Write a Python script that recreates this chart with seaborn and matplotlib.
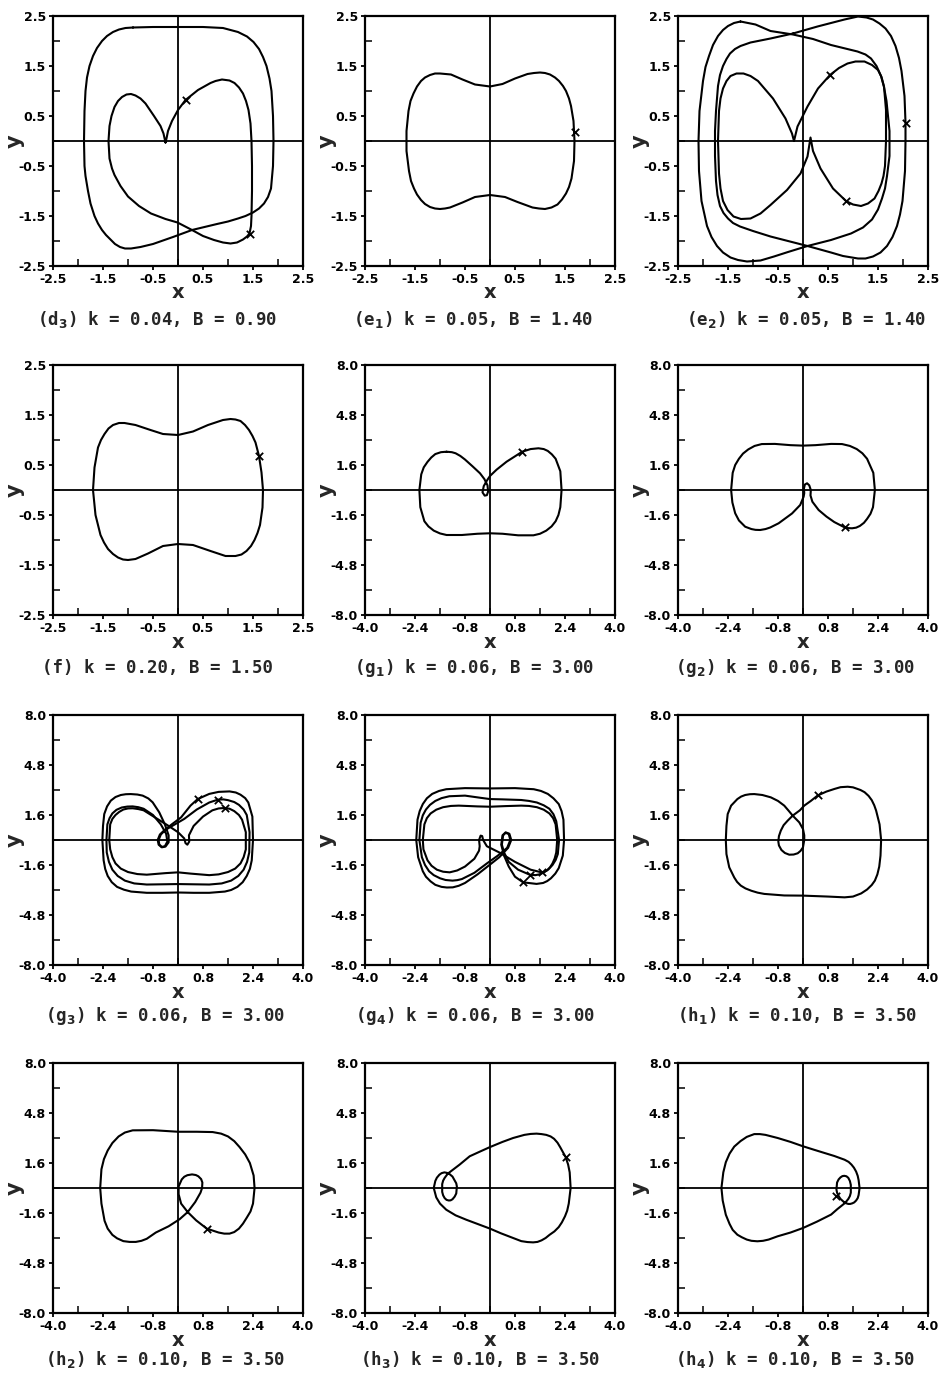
import numpy as np
import matplotlib
matplotlib.use("Agg")
import matplotlib.pyplot as plt
import seaborn as sns

# ------------------------------------------------------------------ data
titles = [r"(d$_\mathbf{3}$) k = 0.04, B = 0.90", r"(e$_\mathbf{1}$) k = 0.05, B = 1.40",
          r"(e$_\mathbf{2}$) k = 0.05, B = 1.40", r"(f) k = 0.20, B = 1.50",
          r"(g$_\mathbf{1}$) k = 0.06, B = 3.00", r"(g$_\mathbf{2}$) k = 0.06, B = 3.00",
          r"(g$_\mathbf{3}$) k = 0.06, B = 3.00", r"(g$_\mathbf{4}$) k = 0.06, B = 3.00",
          r"(h$_\mathbf{1}$) k = 0.10, B = 3.50", r"(h$_\mathbf{2}$) k = 0.10, B = 3.50",
          r"(h$_\mathbf{3}$) k = 0.10, B = 3.50", r"(h$_\mathbf{4}$) k = 0.10, B = 3.50"]

small_ticks = ["-2.5", "-1.5", "-0.5", "0.5", "1.5", "2.5"]
big_xticks = ["-4.0", "-2.4", "-0.8", "0.8", "2.4", "4.0"]
big_yticks = ["-8.0", "-4.8", "-1.6", "1.6", "4.8", "8.0"]

d3_outer = [(-0.9,2.27),(-0.5,2.28),(0.0,2.28),(0.5,2.28),(0.9,2.26),(1.2,2.18),(1.38,2.09),(1.51,1.98),
            (1.62,1.84),(1.7,1.68),(1.77,1.5),(1.83,1.25),(1.87,1.0),(1.9,0.5),(1.91,0.0),(1.9,-0.5),
            (1.86,-0.95),(1.8,-1.12),(1.72,-1.25),(1.62,-1.35),(1.5,-1.43),(1.35,-1.5),(1.2,-1.55),
            (1.0,-1.61),(0.78,-1.66),(0.28,-1.78),(-0.1,-1.92),(-0.5,-2.06),(-0.75,-2.12),(-0.94,-2.15),
            (-1.06,-2.15),(-1.16,-2.12),(-1.26,-2.06),(-1.34,-1.98),(-1.44,-1.88),(-1.52,-1.78),
            (-1.6,-1.65),(-1.67,-1.5),(-1.75,-1.25),(-1.8,-1.0),(-1.85,-0.7),(-1.87,-0.5),(-1.88,0.0),
            (-1.87,0.6),(-1.85,1.0),(-1.82,1.27),(-1.77,1.5),(-1.7,1.7),(-1.62,1.86),(-1.52,2.0),
            (-1.42,2.1),(-1.3,2.18),(-1.18,2.23),(-1.05,2.26),(-0.9,2.27)]
d3_inner = [(-0.25,-0.03),(-0.29,0.15),(-0.35,0.3),(-0.48,0.5),(-0.65,0.75),(-0.75,0.85),(-0.85,0.91),
            (-0.94,0.94),(-1.03,0.93),(-1.12,0.88),(-1.2,0.8),(-1.27,0.68),(-1.33,0.5),(-1.37,0.3),
            (-1.39,0.0),(-1.37,-0.35),(-1.32,-0.55),(-1.27,-0.68),(-1.15,-0.9),(-1.0,-1.11),(-0.78,-1.3),
            (-0.54,-1.45),(-0.25,-1.56),(-0.01,-1.63),(0.28,-1.78),(0.5,-1.9),(0.72,-1.98),(0.9,-2.03),
            (1.05,-2.05),(1.18,-2.03),(1.3,-1.97),(1.38,-1.91),(1.43,-1.85),(1.46,-1.7),(1.47,-1.5),
            (1.48,-1.0),(1.48,-0.5),(1.47,0.0),(1.45,0.35),(1.41,0.62),(1.36,0.8),(1.3,0.95),(1.22,1.07),
            (1.13,1.16),(1.03,1.21),(0.88,1.23),(0.75,1.2),(0.65,1.16),(0.4,1.02),(0.15,0.82),(0.0,0.62),
            (-0.12,0.4),(-0.2,0.2),(-0.23,0.05),(-0.25,-0.03)]
d3_marks = [(0.15,0.82),(1.43,-1.85)]

e1_loop = [(0.0,1.09),(0.25,1.14),(0.5,1.25),(0.75,1.34),(0.88,1.36),(1.0,1.37),(1.1,1.36),(1.2,1.33),
           (1.3,1.27),(1.38,1.2),(1.46,1.1),(1.52,1.0),(1.58,0.85),(1.62,0.7),(1.67,0.4),(1.69,0.0),
           (1.68,-0.4),(1.63,-0.75),(1.58,-0.92),(1.52,-1.05),(1.44,-1.17),(1.35,-1.27),(1.23,-1.33),
           (1.1,-1.36),(0.98,-1.35),(0.85,-1.33),(0.55,-1.22),(0.3,-1.12),(0.0,-1.08),(-0.3,-1.12),
           (-0.55,-1.23),(-0.8,-1.33),(-0.9,-1.35),(-1.0,-1.36),(-1.1,-1.35),(-1.2,-1.32),(-1.3,-1.26),
           (-1.38,-1.18),(-1.46,-1.07),(-1.52,-0.95),(-1.58,-0.8),(-1.62,-0.6),(-1.67,-0.2),(-1.67,0.2),
           (-1.63,0.6),(-1.59,0.8),(-1.53,0.95),(-1.46,1.09),(-1.38,1.2),(-1.3,1.27),(-1.2,1.32),
           (-1.1,1.35),(-1.0,1.35),(-0.78,1.33),(-0.55,1.23),(-0.3,1.13),(0.0,1.09)]
e1_marks = [(1.69,0.19)]

e2_loop_a = [(-1.25,2.39),(-0.95,2.33),(-0.65,2.2),(-0.2,2.13),(0.2,2.04),(0.56,1.92),(1.09,1.79),
             (1.25,1.73),(1.36,1.65),(1.47,1.5),(1.56,1.3),(1.62,1.08),(1.67,0.8),(1.73,0.2),(1.73,-0.3),
             (1.68,-0.7),(1.64,-0.95),(1.58,-1.15),(1.5,-1.37),(1.38,-1.57),(1.2,-1.73),(0.96,-1.85),
             (0.56,-1.98),(0.09,-2.1),(-0.3,-2.22),(-0.58,-2.31),(-0.85,-2.39),(-1.12,-2.41),(-1.3,-2.38),
             (-1.45,-2.33),(-1.6,-2.23),(-1.72,-2.1),(-1.83,-1.92),(-1.92,-1.7),(-2.03,-1.2),(-2.08,-0.6),
             (-2.09,0.0),(-2.07,0.6),(-2.0,1.2),(-1.95,1.48),(-1.88,1.7),(-1.8,1.92),(-1.7,2.1),
             (-1.6,2.22),(-1.5,2.3),(-1.38,2.36),(-1.25,2.39)]
e2_loop_b = [(-0.2,2.15),(0.29,2.29),(0.83,2.43),(1.1,2.49),(1.27,2.47),(1.4,2.43),(1.53,2.35),(1.65,2.25),
             (1.76,2.1),(1.85,1.9),(1.92,1.66),(1.97,1.4),(2.03,0.9),(2.05,0.37),(2.05,0.0),(2.04,-0.6),
             (1.99,-1.2),(1.94,-1.47),(1.88,-1.7),(1.79,-1.92),(1.68,-2.1),(1.55,-2.23),(1.4,-2.31),
             (1.25,-2.35),(1.1,-2.35),(0.8,-2.3),(0.56,-2.23),(0.09,-2.1),(-0.3,-2.0),(-0.65,-1.91),
             (-1.0,-1.8),(-1.26,-1.71),(-1.4,-1.64),(-1.5,-1.55),(-1.59,-1.44),(-1.66,-1.3),(-1.71,-1.08),
             (-1.74,-0.8),(-1.76,-0.3),(-1.76,0.2),(-1.74,0.6),(-1.7,1.1),(-1.66,1.32),(-1.6,1.5),
             (-1.53,1.64),(-1.46,1.75),(-1.36,1.84),(-1.25,1.9),(-1.05,1.97),(-0.65,2.05),(-0.2,2.15)]
e2_loop_c = [(-0.18,0.0),(-0.11,0.29),(0.09,0.69),(0.3,1.05),(0.54,1.32),(0.72,1.46),(0.89,1.55),
             (1.05,1.59),(1.23,1.59),(1.38,1.52),(1.5,1.42),(1.57,1.28),(1.62,1.09),(1.66,0.62),(1.66,0.0),
             (1.64,-0.5),(1.61,-0.7),(1.57,-0.85),(1.51,-1.0),(1.43,-1.15),(1.3,-1.25),(1.16,-1.3),
             (1.0,-1.27),(0.86,-1.2),(0.6,-0.95),(0.35,-0.55),(0.2,-0.2),(0.15,0.07),(0.09,-0.31),
             (-0.05,-0.65),(-0.32,-0.98),(-0.65,-1.28),(-0.85,-1.45),(-1.05,-1.55),(-1.24,-1.56),
             (-1.39,-1.51),(-1.51,-1.38),(-1.6,-1.2),(-1.65,-0.95),(-1.68,-0.65),(-1.70,0.0),(-1.68,0.6),
             (-1.65,0.85),(-1.6,1.05),(-1.53,1.2),(-1.45,1.3),(-1.33,1.35),(-1.19,1.35),(-1.05,1.3),
             (-0.9,1.2),(-0.6,0.85),(-0.35,0.45),(-0.22,0.15),(-0.18,0.0)]
e2_marks = [(0.54,1.32),(2.05,0.37),(0.86,-1.2)]

f_loop = [(0.0,1.1),(0.3,1.17),(0.6,1.3),(0.9,1.4),(1.05,1.42),(1.15,1.41),(1.25,1.38),(1.34,1.3),
          (1.42,1.2),(1.49,1.08),(1.55,0.95),(1.62,0.68),(1.67,0.35),(1.70,0.0),(1.69,-0.35),(1.64,-0.7),
          (1.59,-0.86),(1.53,-1.0),(1.46,-1.12),(1.37,-1.22),(1.27,-1.29),(1.15,-1.32),(0.95,-1.32),
          (0.65,-1.22),(0.3,-1.1),(0.0,-1.08),(-0.3,-1.12),(-0.6,-1.27),(-0.85,-1.38),(-1.0,-1.4),
          (-1.1,-1.39),(-1.2,-1.35),(-1.3,-1.28),(-1.4,-1.18),(-1.48,-1.05),(-1.55,-0.9),(-1.65,-0.5),
          (-1.7,0.0),(-1.67,0.45),(-1.6,0.85),(-1.54,1.0),(-1.47,1.12),(-1.39,1.23),(-1.3,1.3),
          (-1.18,1.34),(-1.07,1.34),(-0.85,1.3),(-0.55,1.2),(-0.3,1.12),(0.0,1.1)]
f_marks = [(1.62,0.68)]

g1_loop = [(-1.39,2.45),(-1.22,2.42),(-1.1,2.35),(-0.95,2.18),(-0.8,1.95),(-0.55,1.5),(-0.32,1.07),
           (-0.18,0.7),(-0.08,0.3),(-0.06,-0.1),(-0.1,-0.33),(-0.17,-0.36),(-0.24,-0.15),(-0.2,0.25),
           (-0.1,0.6),(0.0,0.9),(0.21,1.3),(0.53,1.81),(1.03,2.45),(1.3,2.62),(1.55,2.67),(1.72,2.62),
           (1.85,2.5),(1.98,2.28),(2.1,2.0),(2.25,1.2),(2.29,0.0),(2.25,-1.1),(2.19,-1.6),(2.1,-2.0),
           (1.97,-2.33),(1.8,-2.6),(1.6,-2.8),(1.39,-2.9),(0.9,-2.9),(0.4,-2.8),(0.0,-2.77),(-0.4,-2.8),
           (-0.9,-2.88),(-1.39,-2.88),(-1.6,-2.78),(-1.8,-2.6),(-1.97,-2.33),(-2.1,-2.0),(-2.23,-1.1),
           (-2.26,0.0),(-2.2,1.0),(-2.12,1.45),(-2.0,1.8),(-1.88,2.08),(-1.75,2.3),(-1.57,2.42),(-1.39,2.45)]
g1_marks = [(1.03,2.45)]

g2_loop = [(-2.3,0.0),(-2.25,1.1),(-2.17,1.6),(-2.05,2.0),(-1.92,2.33),(-1.75,2.6),(-1.55,2.82),
           (-1.32,2.94),(-0.9,2.95),(-0.4,2.87),(0.0,2.84),(0.4,2.87),(0.9,2.95),(1.25,2.94),(1.5,2.82),
           (1.72,2.62),(1.9,2.35),(2.05,2.0),(2.25,1.1),(2.3,0.0),(2.24,-1.1),(2.16,-1.52),(2.05,-1.85),
           (1.95,-2.1),(1.82,-2.3),(1.7,-2.41),(1.57,-2.45),(1.45,-2.44),(1.33,-2.39),(1.0,-2.05),
           (0.75,-1.7),(0.5,-1.28),(0.3,-0.75),(0.24,-0.35),(0.25,0.0),(0.2,0.3),(0.13,0.43),(0.06,0.35),
           (0.03,0.1),(0.04,-0.2),(0.02,-0.43),(-0.09,-0.96),(-0.35,-1.5),(-0.78,-2.13),(-1.05,-2.4),
           (-1.2,-2.5),(-1.37,-2.56),(-1.52,-2.55),(-1.65,-2.5),(-1.85,-2.35),(-2.05,-1.95),(-2.17,-1.49),
           (-2.26,-0.8),(-2.3,0.0)]
g2_marks = [(1.33,-2.39)]

g3_outer = [(-2.42,0.0),(-2.4,0.9),(-2.36,1.66),(-2.27,2.15),(-2.15,2.52),(-2.0,2.75),(-1.83,2.88),
            (-1.67,2.93),(-1.51,2.94),(-1.3,2.91),(-1.13,2.84),(-0.95,2.66),(-0.81,2.41),(-0.6,1.77),
            (-0.42,1.0),(-0.3,0.3),(-0.3,-0.15),(-0.4,-0.42),(-0.52,-0.47),(-0.62,-0.3),(-0.65,0.0),
            (-0.58,0.35),(-0.45,0.6),(-0.2,1.0),(0.1,1.45),(0.4,2.2),(0.63,2.62),(1.0,2.95),(1.3,3.08),
            (1.65,3.11),(1.85,3.04),(2.0,2.9),(2.15,2.68),(2.25,2.4),(2.38,1.5),(2.4,0.0),(2.36,-1.3),
            (2.3,-1.85),(2.2,-2.3),(2.07,-2.7),(1.9,-3.0),(1.7,-3.2),(1.5,-3.3),(1.0,-3.38),(0.5,-3.38),
            (0.0,-3.36),(-0.5,-3.38),(-1.0,-3.38),(-1.5,-3.3),(-1.73,-3.18),(-1.95,-3.0),(-2.12,-2.7),
            (-2.25,-2.3),(-2.33,-1.85),(-2.38,-1.3),(-2.42,0.0)]
g3_middle = [(-2.29,0.0),(-2.26,1.0),(-2.19,1.4),(-2.1,1.7),(-1.97,1.93),(-1.8,2.08),(-1.62,2.14),
             (-1.45,2.15),(-1.27,2.1),(-1.1,2.0),(-0.8,1.6),(-0.55,1.0),(-0.38,0.4),(-0.34,-0.1),
             (-0.42,-0.4),(-0.52,-0.44),(-0.6,-0.28),(-0.62,0.0),(-0.55,0.35),(-0.4,0.65),(-0.1,1.0),
             (0.2,1.35),(0.6,1.95),(1.0,2.4),(1.27,2.58),(1.45,2.6),(1.6,2.55),(1.8,2.43),(1.95,2.25),
             (2.1,1.95),(2.2,1.6),(2.29,0.5),(2.28,-0.8),(2.21,-1.4),(2.1,-1.9),(1.93,-2.3),(1.7,-2.6),
             (1.4,-2.78),(1.0,-2.85),(0.0,-2.82),(-1.0,-2.85),(-1.4,-2.78),(-1.7,-2.6),(-1.93,-2.3),
             (-2.1,-1.9),(-2.21,-1.4),(-2.28,-0.8),(-2.29,0.0)]
g3_inner = [(-2.2,0.0),(-2.17,1.0),(-2.1,1.35),(-2.0,1.6),(-1.88,1.8),(-1.75,1.95),(-1.6,2.02),
            (-1.45,2.03),(-1.27,1.98),(-1.1,1.9),(-0.7,1.4),(-0.3,0.9),(0.0,0.5),(0.2,0.1),(0.24,-0.2),
            (0.3,-0.3),(0.36,-0.1),(0.35,0.3),(0.5,0.9),(0.8,1.5),(1.1,1.9),(1.3,2.02),(1.49,2.05),
            (1.65,2.0),(1.8,1.85),(1.95,1.6),(2.05,1.3),(2.17,0.5),(2.17,-0.6),(2.1,-1.1),(2.0,-1.5),
            (1.83,-1.83),(1.6,-2.05),(1.3,-2.2),(1.0,-2.25),(0.4,-2.15),(0.0,-2.07),(-0.4,-2.12),
            (-1.0,-2.22),(-1.3,-2.18),(-1.6,-2.05),(-1.83,-1.83),(-2.0,-1.5),(-2.1,-1.1),(-2.17,-0.6),
            (-2.2,0.0)]
g3_marks = [(0.63,2.62),(1.27,2.58),(1.49,2.05)]

g4_outer = [(-2.36,0.0),(-2.32,1.3),(-2.25,1.85),(-2.15,2.3),(-2.02,2.67),(-1.85,2.95),(-1.63,3.14),
            (-1.4,3.25),(-0.8,3.32),(0.0,3.3),(0.8,3.32),(1.4,3.25),(1.63,3.14),(1.85,2.95),(2.03,2.67),
            (2.2,2.3),(2.29,1.85),(2.35,1.3),(2.37,0.0),(2.33,-1.0),(2.2,-1.8),(2.09,-2.15),(1.95,-2.45),
            (1.83,-2.63),(1.7,-2.75),(1.49,-2.81),(1.06,-2.71),(0.8,-2.35),(0.6,-1.7),(0.45,-1.0),
            (0.36,-0.3),(0.4,0.3),(0.5,0.49),(0.62,0.4),(0.68,0.0),(0.58,-0.5),(0.3,-1.1),
            (-0.05,-1.65),(-0.4,-2.2),(-0.8,-2.75),(-1.0,-2.93),(-1.19,-3.03),(-1.38,-3.04),(-1.55,-3.0),
            (-1.75,-2.87),(-1.9,-2.65),(-2.05,-2.35),(-2.15,-2.0),(-2.3,-1.1),(-2.36,0.0)]
g4_middle = [(-2.26,0.0),(-2.22,1.1),(-2.15,1.58),(-2.05,1.95),(-1.92,2.25),(-1.75,2.5),(-1.55,2.68),
             (-1.3,2.8),(-0.8,2.84),(-0.3,2.7),(0.0,2.62),(0.4,2.6),(1.0,2.56),(1.25,2.5),(1.5,2.4),
             (1.72,2.22),(1.9,2.0),(2.03,1.65),(2.12,1.2),(2.21,0.0),(2.17,-0.9),(2.1,-1.28),(2.0,-1.6),
             (1.87,-1.88),(1.7,-2.1),(1.58,-2.2),(1.45,-2.25),(1.27,-2.22),(0.9,-1.9),(0.6,-1.4),
             (0.45,-0.8),(0.38,-0.3),(0.42,0.3),(0.5,0.46),(0.6,0.38),(0.65,0.0),(0.55,-0.5),(0.25,-1.0),
             (-0.1,-1.5),(-0.5,-2.1),(-0.9,-2.5),(-1.05,-2.57),(-1.2,-2.6),(-1.42,-2.56),(-1.6,-2.45),
             (-1.8,-2.25),(-1.95,-2.0),(-2.08,-1.6),(-2.18,-1.1),(-2.26,0.0)]
g4_inner = [(-2.15,0.0),(-2.1,1.0),(-2.02,1.4),(-1.9,1.7),(-1.72,1.94),(-1.5,2.1),(-1.25,2.18),(-1.0,2.2),
            (-0.4,2.15),(0.0,2.13),(0.5,2.17),(1.0,2.2),(1.25,2.18),(1.5,2.1),(1.72,1.94),(1.9,1.7),
            (2.02,1.4),(2.1,1.0),(2.15,0.0),(2.12,-0.8),(2.07,-1.18),(2.0,-1.5),(1.92,-1.75),(1.82,-1.95),
            (1.74,-2.04),(1.65,-2.07),(1.3,-1.9),(0.8,-1.4),(0.3,-0.8),(-0.1,-0.4),(-0.22,0.0),(-0.25,0.25),
            (-0.3,0.28),(-0.35,0.0),(-0.33,-0.4),(-0.35,-0.68),(-0.5,-1.2),(-0.8,-1.7),(-1.05,-1.95),
            (-1.29,-2.07),(-1.5,-2.03),(-1.7,-1.9),(-1.87,-1.65),(-2.0,-1.3),(-2.13,-0.6),(-2.15,0.0)]
g4_marks = [(1.06,-2.71),(1.27,-2.22),(1.65,-2.07)]

h1_loop = [(-2.47,0.0),(-2.45,0.9),(-2.41,1.66),(-2.3,2.2),(-2.1,2.62),(-1.98,2.78),(-1.85,2.88),
           (-1.7,2.93),(-1.56,2.94),(-1.3,2.88),(-1.03,2.73),(-0.8,2.5),(-0.6,2.2),(-0.45,1.85),
           (-0.33,1.56),(-0.12,1.13),(0.0,0.7),(0.04,0.3),(0.04,0.0),(0.0,-0.47),(-0.08,-0.7),
           (-0.17,-0.85),(-0.3,-0.93),(-0.44,-0.94),(-0.58,-0.83),(-0.69,-0.64),(-0.77,-0.35),(-0.79,-0.1),
           (-0.77,0.25),(-0.71,0.6),(-0.62,0.95),(-0.49,1.24),(-0.33,1.56),(-0.1,1.9),(0.04,2.2),(0.25,2.5),
           (0.47,2.85),(0.75,3.1),(1.01,3.27),(1.2,3.38),(1.43,3.41),(1.6,3.37),(1.7,3.3),(1.84,3.2),
           (1.97,3.06),(2.1,2.82),(2.2,2.55),(2.28,2.22),(2.34,1.88),(2.45,1.0),(2.5,0.0),(2.48,-1.0),
           (2.44,-1.7),(2.38,-2.2),(2.3,-2.6),(2.2,-2.88),(2.05,-3.17),(1.86,-3.42),(1.6,-3.62),
           (1.33,-3.67),(0.8,-3.62),(0.0,-3.56),(-0.6,-3.55),(-1.24,-3.45),(-1.45,-3.37),(-1.65,-3.25),
           (-1.84,-3.1),(-1.99,-2.92),(-2.11,-2.68),(-2.2,-2.4),(-2.36,-1.75),(-2.45,-0.9),(-2.47,0.0)]
h1_marks = [(0.47,2.85)]

h2_loop = [(-2.49,0.0),(-2.45,1.2),(-2.37,1.85),(-2.25,2.4),(-2.1,2.88),(-1.9,3.3),(-1.7,3.55),
           (-1.45,3.69),(-0.8,3.7),(0.0,3.6),(0.6,3.6),(1.11,3.58),(1.38,3.48),(1.6,3.3),(1.8,3.0),
           (1.97,2.62),(2.15,2.15),(2.3,1.6),(2.42,0.8),(2.45,0.0),(2.4,-1.0),(2.32,-1.5),(2.2,-1.9),
           (2.08,-2.28),(1.95,-2.6),(1.8,-2.82),(1.65,-2.92),(1.48,-2.92),(1.3,-2.85),(0.92,-2.6),
           (0.58,-2.07),(0.31,-1.54),(0.1,-1.0),(0.02,-0.4),(0.02,0.1),(0.12,0.55),(0.2,0.72),(0.3,0.82),
           (0.45,0.87),(0.57,0.83),(0.65,0.75),(0.74,0.57),(0.78,0.35),(0.77,0.0),(0.72,-0.3),(0.55,-0.9),
           (0.31,-1.54),(0.05,-2.0),(-0.3,-2.45),(-0.71,-2.85),(-1.0,-3.25),(-1.17,-3.38),(-1.35,-3.45),
           (-1.55,-3.45),(-1.75,-3.4),(-1.95,-3.22),(-2.1,-3.0),(-2.25,-2.6),(-2.35,-2.1),(-2.45,-1.0),
           (-2.49,0.0)]
h2_marks = [(0.92,-2.6)]

h3_loop = [(-1.35,0.92),(-0.97,1.5),(-0.65,2.03),(-0.3,2.35),(0.0,2.62),(0.4,2.95),(0.74,3.2),(1.1,3.4),
           (1.3,3.46),(1.49,3.48),(1.65,3.45),(1.8,3.4),(1.94,3.3),(2.05,3.15),(2.16,2.9),(2.25,2.6),
           (2.42,1.98),(2.5,1.5),(2.55,1.0),(2.58,0.0),(2.52,-1.0),(2.47,-1.45),(2.4,-1.81),(2.3,-2.2),
           (2.2,-2.5),(2.06,-2.78),(1.91,-2.99),(1.78,-3.2),(1.65,-3.35),(1.52,-3.45),(1.38,-3.48),
           (1.2,-3.46),(1.0,-3.4),(0.74,-3.2),(0.35,-2.9),(0.0,-2.6),(-0.4,-2.3),(-0.76,-2.03),(-1.1,-1.75),
           (-1.4,-1.39),(-1.6,-1.0),(-1.72,-0.6),(-1.8,0.0),(-1.75,0.45),(-1.7,0.66),(-1.62,0.85),
           (-1.55,0.95),(-1.46,1.0),(-1.38,0.97),(-1.3,0.9),(-1.2,0.73),(-1.15,0.55),(-1.08,0.3),
           (-1.06,0.1),(-1.08,-0.35),(-1.13,-0.55),(-1.2,-0.72),(-1.26,-0.79),(-1.32,-0.8),(-1.39,-0.76),
           (-1.45,-0.65),(-1.5,-0.47),(-1.53,-0.25),(-1.53,0.25),(-1.5,0.47),(-1.45,0.65),(-1.35,0.92)]
h3_marks = [(2.42,1.98)]

h4_loop = [(-2.61,0.0),(-2.55,1.0),(-2.47,1.65),(-2.35,2.2),(-2.2,2.65),(-2.0,3.0),(-1.8,3.27),
           (-1.56,3.45),(-1.38,3.45),(-1.2,3.4),(-0.81,3.2),(-0.4,2.95),(0.0,2.67),(0.35,2.45),(0.69,2.24),
           (1.0,2.05),(1.33,1.81),(1.46,1.67),(1.55,1.5),(1.63,1.3),(1.7,1.05),(1.75,0.78),(1.78,0.5),
           (1.81,0.0),(1.78,-0.45),(1.75,-0.65),(1.7,-0.8),(1.64,-0.92),(1.58,-0.98),(1.51,-1.02),
           (1.45,-1.02),(1.37,-0.97),(1.3,-0.88),(1.2,-0.7),(1.15,-0.55),(1.09,-0.3),(1.07,-0.1),
           (1.09,0.35),(1.14,0.55),(1.2,0.68),(1.26,0.76),(1.32,0.78),(1.39,0.75),(1.45,0.65),(1.5,0.45),
           (1.53,0.2),(1.53,-0.3),(1.5,-0.52),(1.45,-0.7),(1.35,-0.95),(1.1,-1.35),(0.9,-1.7),(0.45,-2.15),
           (0.0,-2.56),(-0.4,-2.85),(-0.81,-3.09),(-1.1,-3.3),(-1.28,-3.38),(-1.46,-3.41),(-1.65,-3.38),
           (-1.8,-3.3),(-1.96,-3.15),(-2.1,-2.99),(-2.25,-2.68),(-2.35,-2.3),(-2.47,-1.71),(-2.57,-0.8),
           (-2.61,0.0)]
h4_marks = [(1.06,-0.53)]

# ------------------------------------------------------------------ style
sns.set_theme(style="white")
plt.rcParams["font.family"] = ["DejaVu Sans"]
plt.rcParams["font.weight"] = "bold"
plt.rcParams["mathtext.fontset"] = "dejavusans"

FIG_W, FIG_H = 950, 1385
fig = plt.figure(figsize=(FIG_W / 100, FIG_H / 100), dpi=100)
fig.patch.set_facecolor("white")

col_left = [53, 365, 678]
row_top = [16, 365, 715, 1063]
AX_W, AX_H = 250, 250
title_y = [319, 668, 1016, 1359]
title_x = [[157, 473, 806], [157, 474, 795], [165, 475, 797], [165, 480, 795]]

panels = [
    ([d3_outer, d3_inner], d3_marks, "small"),
    ([e1_loop], e1_marks, "small"),
    ([e2_loop_a, e2_loop_b, e2_loop_c], e2_marks, "small"),
    ([f_loop], f_marks, "small"),
    ([g1_loop], g1_marks, "big"),
    ([g2_loop], g2_marks, "big"),
    ([g3_outer, g3_middle, g3_inner], g3_marks, "big"),
    ([g4_outer, g4_middle, g4_inner], g4_marks, "big"),
    ([h1_loop], h1_marks, "big"),
    ([h2_loop], h2_marks, "big"),
    ([h3_loop], h3_marks, "big"),
    ([h4_loop], h4_marks, "big"),
]

for i, (curves, marks, kind) in enumerate(panels):
    r, c = divmod(i, 3)
    L = col_left[c]
    T = row_top[r]
    ax = fig.add_axes([L / FIG_W, 1 - (T + AX_H) / FIG_H, AX_W / FIG_W, AX_H / FIG_H])
    ax.set_facecolor("white")
    if kind == "small":
        xl, yl = 2.5, 2.5
        xlab = [float(s) for s in small_ticks]
        ylab = xlab
        xt_txt, yt_txt = small_ticks, small_ticks
        xminor = [-2.0, -1.0, 0.0, 1.0, 2.0]
        yminor = xminor
    else:
        xl, yl = 4.0, 8.0
        xlab = [float(s) for s in big_xticks]
        ylab = [float(s) for s in big_yticks]
        xt_txt, yt_txt = big_xticks, big_yticks
        xminor = [-3.2, -1.6, 0.0, 1.6, 3.2]
        yminor = [-6.4, -3.2, 0.0, 3.2, 6.4]

    ax.axhline(0, color="black", lw=1.3, zorder=1)
    ax.axvline(0, color="black", lw=1.3, zorder=1)
    for crv in curves:
        arr = np.asarray(crv, dtype=float)
        sns.lineplot(x=arr[:, 0], y=arr[:, 1], sort=False, estimator=None,
                     color="black", lw=1.5, ax=ax, zorder=3)
    m = np.asarray(marks, dtype=float)
    sns.scatterplot(x=m[:, 0], y=m[:, 1], marker="x", s=28, color="black",
                    linewidth=1.3, ax=ax, zorder=4)

    ax.set_xlim(-xl, xl)
    ax.set_ylim(-yl, yl)
    ax.set_xticks(xlab)
    ax.set_xticklabels(xt_txt)
    ax.set_yticks(ylab)
    ax.set_yticklabels(yt_txt)
    ax.set_xticks(xminor, minor=True)
    ax.set_yticks(yminor, minor=True)
    ax.tick_params(axis="both", which="major", direction="out", length=3, width=1.3,
                   labelsize=9, pad=2, colors="black", bottom=True, left=True)
    ax.tick_params(axis="both", which="minor", direction="in", length=5, width=1.3,
                   bottom=True, left=True)
    for lab in ax.get_xticklabels() + ax.get_yticklabels():
        lab.set_fontweight("bold")
    for sp in ax.spines.values():
        sp.set_color("black")
        sp.set_linewidth(1.6)

    ax.set_xlabel("x", fontsize=14, fontweight="bold", va="center")
    ax.xaxis.set_label_coords(0.5, -0.108)
    ax.set_ylabel("y", fontsize=15, fontweight="bold", va="center", rotation=90)
    ax.yaxis.set_label_coords(-0.152, 0.5)

    fig.text(title_x[r][c] / FIG_W, 1 - title_y[r] / FIG_H, titles[i],
             ha="center", va="center", fontsize=12.5, fontweight="bold",
             family=["DejaVu Sans Mono", "DejaVu Sans"])

fig.savefig("out.png", dpi=100, facecolor="white")
